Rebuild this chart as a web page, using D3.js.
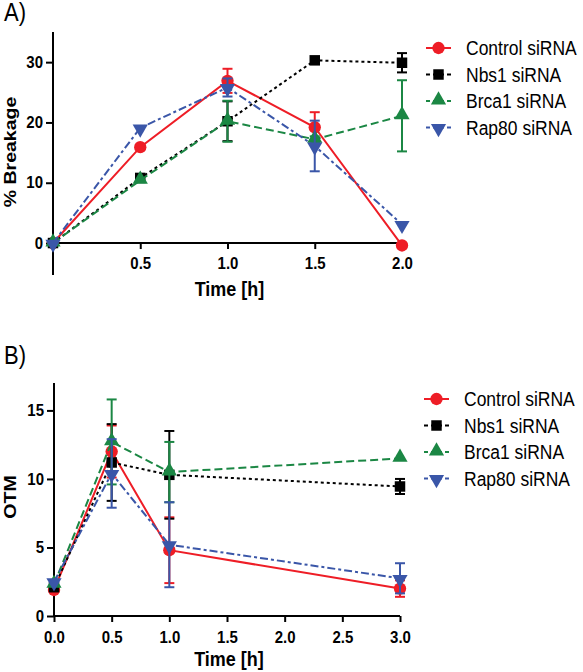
<!DOCTYPE html>
<html><head><meta charset="utf-8">
<script src="https://cdn.jsdelivr.net/npm/d3@7"></script>
<style>body{margin:0;background:#fff}svg{display:block}</style>
</head><body>
<script>
// ---- data ----
const seriesNames = ["Control siRNA", "Nbs1 siRNA", "Brca1 siRNA", "Rap80 siRNA"];
const timesA = [0, 0.5, 1.0, 1.5, 2.0];
const controlA = [0, 15.9, 26.9, 19.2, -0.4];
const controlAErr = [0, 0, 2.0, 2.5, 0];
const nbs1A = [0, 10.8, 20.2, 30.3, 29.9];
const nbs1AErr = [0, 0, 3.3, 0, 1.6];
const brca1A = [0, 10.4, 20.2, 17.2, 21.1];
const brca1AErr = [0, 0, 3.4, 0.5, 5.9];
const rap80A = [0, 19.1, 25.8, 16.1, 3.1];
const rap80AErr = [0, 0, 1.5, 4.2, 0];

const timesB = [0, 0.5, 1.0, 3.0];
const controlB = [1.9, 12.0, 4.8, 2.0];
const controlBErr = [0, 1.9, 2.4, 0.6];
const nbs1B = [2.1, 11.2, 10.3, 9.45];
const nbs1BErr = [0, 2.8, 3.2, 0.55];
const brca1B = [2.3, 12.7, 10.5, 11.5];
const brca1BErr = [0, 3.1, 2.2, 0];
const rap80B = [2.5, 10.4, 5.2, 2.75];
const rap80BErr = [0, 2.5, 3.1, 1.1];

const xTicksA = [0.5, 1.0, 1.5, 2.0];
const yTicksA = [0, 10, 20, 30];
const xTicksB = [0, 0.5, 1.0, 1.5, 2.0, 2.5, 3.0];
const yTicksB = [0, 5, 10, 15];

// ---- styles ----
const colors = ["#ee1d26", "#000000", "#1b8744", "#3a56a8"];
const dashes = [null, "3,3", "8,4", "8,3,3,3"];
const symbols = [d3.symbolCircle, d3.symbolSquare, d3.symbolTriangle, d3.symbolTriangle];
const symSizes = [120, 110, 100, 100];
const symRot = [0, 0, 0, 180];
const S = 1.15; // vertical text stretch
const FONT = "'Liberation Sans', Arial, sans-serif";

const W = 583, H = 672;
const svg = d3.select("body").append("svg").attr("width", W).attr("height", H);

function txt(g, x, y, s, opt = {}) {
  return g.append("text")
    .attr("transform", `translate(${x},${y}) scale(1,${S})` + (opt.rotate ? ` rotate(${opt.rotate})` : ""))
    .attr("text-anchor", opt.anchor || "start")
    .attr("font-family", FONT)
    .attr("font-size", opt.size || 15)
    .attr("font-weight", opt.weight || "normal")
    .attr("fill", "#000")
    .text(s);
}

function panel(cfg) {
  const g = svg.append("g");
  const { x, y } = cfg;
  // axes
  const yAxis = d3.axisLeft(y).tickValues(cfg.yTicks).tickSize(7).tickSizeOuter(0).tickPadding(3).tickFormat(d3.format("d"));
  const xAxis = d3.axisBottom(x).tickValues(cfg.xTicks).tickSize(6).tickSizeOuter(0).tickFormat(d3.format(".1f"));
  const gy = g.append("g").attr("transform", `translate(${x.range()[0]},0)`).call(yAxis);
  const gx = g.append("g").attr("transform", `translate(0,${y(0)})`).call(xAxis);
  [gx, gy].forEach(a => {
    a.selectAll("path,line").attr("stroke", "#000").attr("stroke-width", 2);
    a.selectAll("text").attr("font-family", FONT).attr("font-size", 15).attr("font-weight", "bold").attr("fill", "#000");
  });
  gy.selectAll("text").attr("transform", `scale(1,${S})`).attr("dy", "0.3em");
  gx.selectAll("text").attr("transform", `scale(1,${S})`).attr("y", cfg.xLabelOff / S).attr("dy", 0);
  gy.select(".domain").attr("d", `M0,${y.range()[0]}V${y.range()[1]}`);
  gx.select(".domain").attr("d", `M${x.range()[0]},0H${x.range()[1] + (cfg.xExtra || 0)}`);

  // axis titles
  txt(g, (x.range()[0] + x.range()[1]) / 2 + 2, cfg.xTitleY, "Time [h]", { anchor: "middle", size: 18, weight: "bold" });
  txt(g, cfg.yTitleX, cfg.yTitleY, cfg.yTitle, { anchor: "middle", size: 17, weight: "bold", rotate: -90 });
  txt(g, 4, cfg.labelY, cfg.label, { size: 22 });

  // series
  cfg.series.forEach((vals, i) => {
    const errs = cfg.errs[i];
    const pts = cfg.times.map((t, j) => ({ t, v: vals[j], e: errs[j] }));
    const sg = g.append("g");
    sg.append("path").datum(pts)
      .attr("d", d3.line().x(d => x(d.t)).y(d => y(d.v)))
      .attr("fill", "none").attr("stroke", colors[i]).attr("stroke-width", 2)
      .attr("stroke-dasharray", dashes[i]);
    const eb = sg.selectAll(".eb").data(pts.filter(d => d.e > 0)).join("g");
    eb.append("line").attr("x1", d => x(d.t)).attr("x2", d => x(d.t))
      .attr("y1", d => y(d.v - d.e)).attr("y2", d => y(d.v + d.e));
    eb.append("line").attr("x1", d => x(d.t) - 5).attr("x2", d => x(d.t) + 5)
      .attr("y1", d => y(d.v + d.e)).attr("y2", d => y(d.v + d.e));
    eb.append("line").attr("x1", d => x(d.t) - 5).attr("x2", d => x(d.t) + 5)
      .attr("y1", d => y(d.v - d.e)).attr("y2", d => y(d.v - d.e));
    eb.selectAll("line").attr("stroke", colors[i]).attr("stroke-width", 2);
    sg.selectAll(".pt").data(pts).join("path")
      .attr("d", d3.symbol(symbols[i], symSizes[i]))
      .attr("transform", d => `translate(${x(d.t)},${y(d.v) + (i === 2 ? -1 : i === 3 ? 1 : 0)}) rotate(${symRot[i]})`)
      .attr("fill", colors[i]);
  });

  // legend
  const lg = g.append("g");
  seriesNames.forEach((nm, i) => {
    const ly = cfg.legY + i * cfg.legStep;
    lg.append("line").attr("x1", cfg.legX).attr("x2", cfg.legX + 25).attr("y1", ly).attr("y2", ly)
      .attr("stroke", colors[i]).attr("stroke-width", 2).attr("stroke-dasharray", dashes[i] ? "4,3" : null);
    lg.append("path").attr("d", d3.symbol(symbols[i], symSizes[i]))
      .attr("transform", `translate(${cfg.legX + 12.5},${ly + (i === 2 ? -1 : i === 3 ? 1 : 0)}) rotate(${symRot[i]})`)
      .attr("fill", colors[i]);
    txt(lg, cfg.legX + 40, ly + 7, nm, { size: 17.5 });
  });
}

panel({
  x: d3.scaleLinear([0, 2], [53, 402]),
  y: d3.scaleLinear([-5.3, 35], [275, 32]),
  xTicks: xTicksA, yTicks: yTicksA, xLabelOff: 26, xExtra: 4,
  times: timesA,
  series: [controlA, nbs1A, brca1A, rap80A],
  errs: [controlAErr, nbs1AErr, brca1AErr, rap80AErr],
  xTitleY: 296, yTitle: "% Breakage", yTitleX: 16, yTitleY: 152,
  label: "A)", labelY: 21,
  legX: 426, legY: 48, legStep: 26.5
});

panel({
  x: d3.scaleLinear([0, 3], [54, 400]),
  y: d3.scaleLinear([0, 17], [616, 383]),
  xTicks: xTicksB, yTicks: yTicksB, xLabelOff: 27,
  times: timesB,
  series: [controlB, nbs1B, brca1B, rap80B],
  errs: [controlBErr, nbs1BErr, brca1BErr, rap80BErr],
  xTitleY: 666, yTitle: "OTM", yTitleX: 16, yTitleY: 497,
  label: "B)", labelY: 364,
  legX: 424, legY: 399, legStep: 26.5
});
</script>
</body></html>
